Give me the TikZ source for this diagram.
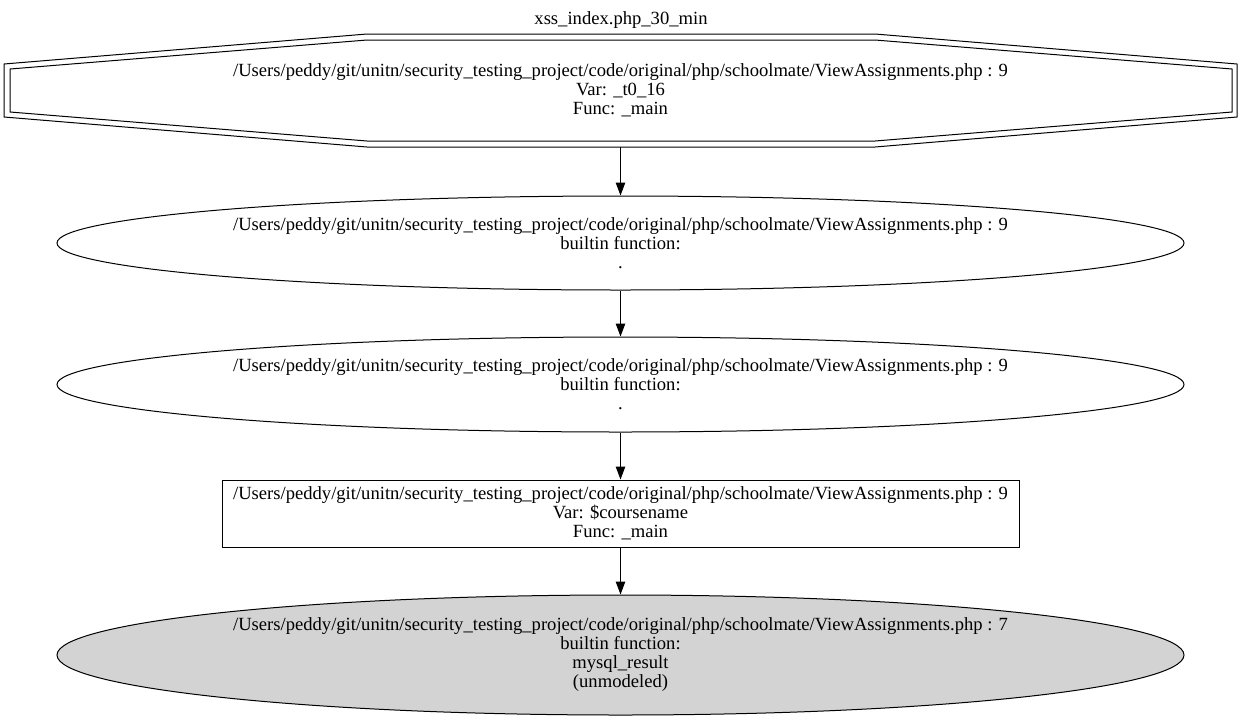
\documentclass[tikz,border=0pt]{standalone}
\usepackage{fontspec}
\setmainfont{Liberation Serif}
\usetikzlibrary{shapes.geometric,arrows.meta}
\definecolor{nodegray}{RGB}{211,211,211}
\begin{document}
\begin{tikzpicture}[x=1pt,y=-1pt,
  every node/.style={font=\fontsize{18.6}{19}\selectfont, align=center, inner sep=0pt},
  ellnode/.style={ellipse, draw, line width=1pt, minimum width=1127pt},
  boxnode/.style={rectangle, draw, line width=1pt},
  edge/.style={line width=1pt, -{Triangle[length=13pt,width=9.5pt]}},
  octline/.style={line width=1pt, line join=miter}]
\useasboundingbox (0,0) rectangle (1242,721);
\fill[white] (0,0) rectangle (1242,721);

% graph title
\node (title) at (621,20) {xss\_index.php\_30\_min};

% source node: double octagon
\draw[octline] (4,64) -- (367,34) -- (875,34) -- (1237,64) -- (1237,117) -- (875,147) -- (367,147) -- (4,117) -- cycle;
\draw[octline] (10,69) -- (367,40) -- (875,40) -- (1232,69) -- (1232,112) -- (875,141) -- (367,141) -- (10,112) -- cycle;
\node[minimum width=1233pt, minimum height=113pt] (n0) at (620.5,90.5)
  {/Users/peddy/git/unitn/security\_testing\_project/code/original/php/schoolmate/ViewAssignments.php : 9\\
   Var: \_t0\_16\\ Func: \_main};

\node[ellnode, minimum height=94pt] (n1) at (620.5,243)
  {/Users/peddy/git/unitn/security\_testing\_project/code/original/php/schoolmate/ViewAssignments.php : 9\\
   builtin function:\\ .};

\node[ellnode, minimum height=95pt] (n2) at (620.5,384.5)
  {/Users/peddy/git/unitn/security\_testing\_project/code/original/php/schoolmate/ViewAssignments.php : 9\\
   builtin function:\\ .};

\node[boxnode, minimum width=797pt, minimum height=67pt] (n3) at (620.5,513.5)
  {/Users/peddy/git/unitn/security\_testing\_project/code/original/php/schoolmate/ViewAssignments.php : 9\\
   Var: \$coursename\\ Func: \_main};

\node[ellnode, fill=nodegray, minimum height=120pt] (n4) at (620.5,655)
  {/Users/peddy/git/unitn/security\_testing\_project/code/original/php/schoolmate/ViewAssignments.php : 7\\
   builtin function:\\ mysql\_result\\ (unmodeled)};

\draw[edge] (n0) -- (n1);
\draw[edge] (n1) -- (n2);
\draw[edge] (n2) -- (n3);
\draw[edge] (n3) -- (n4);
\end{tikzpicture}
\end{document}
